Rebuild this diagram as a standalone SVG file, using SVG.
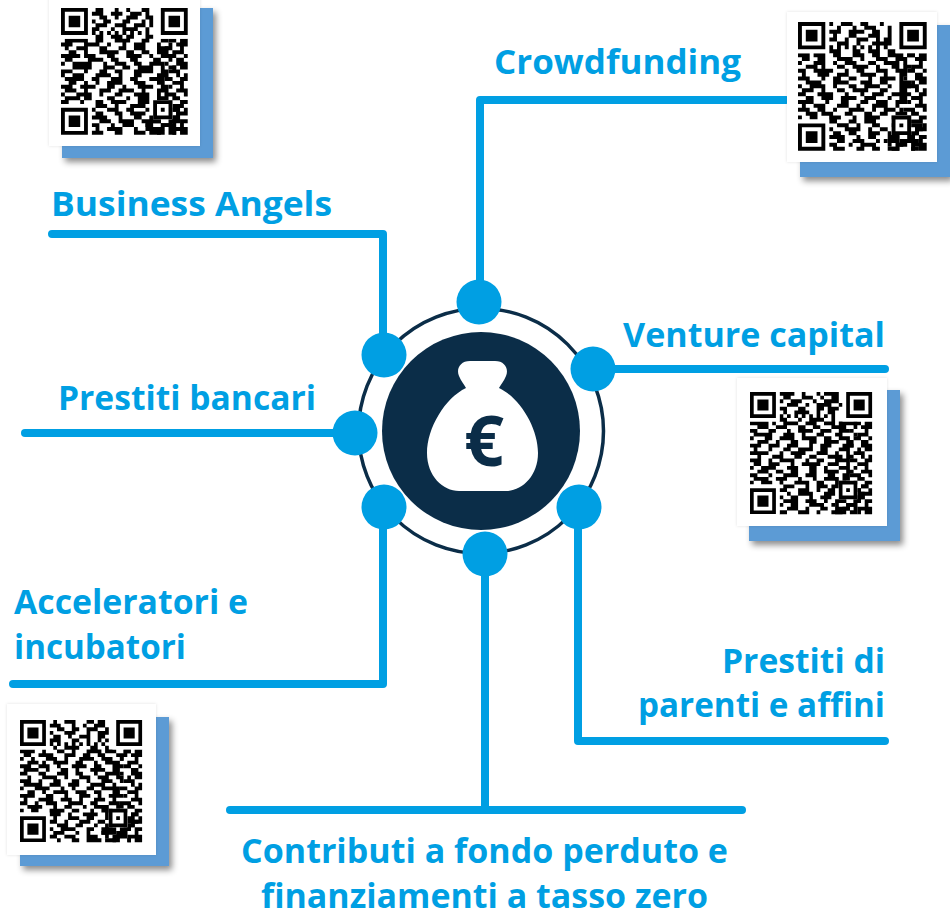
<svg xmlns="http://www.w3.org/2000/svg" width="950" height="913" viewBox="0 0 950 913">
<style>
.lbl{font-family:"Open Sans","Noto Sans","Liberation Sans",sans-serif;font-weight:700;font-size:34.5px;fill:#009fe3;font-variant-ligatures:none}
.wire{fill:none;stroke:#009fe3;stroke-width:8;stroke-linecap:round;stroke-linejoin:round}
.dot{fill:#009fe3}
.back{fill:#5b9bd5;filter:url(#sh)}
.card{fill:#fff;filter:url(#sh2)}
.qrd{fill:none;stroke:#000;stroke-width:1.03}
</style>
<defs>
<filter id="sh" x="-10%" y="-10%" width="125%" height="125%"><feDropShadow dx="3" dy="4" stdDeviation="3" flood-color="#000" flood-opacity=".45"/></filter>
<filter id="sh2" x="-5%" y="-5%" width="110%" height="110%"><feDropShadow dx="0" dy="0" stdDeviation="1.5" flood-color="#000" flood-opacity=".12"/></filter>
<g id="frame">
<path class="qrd" d="M28 8.5h2m1 0h2M30 9.5h3M27 10.5h1m3 0h1M29 11.5h3M28 12.5h2m2 0h1M30 13.5h2M27 14.5h1m2 0h3M29 15.5h1m1 0h2M28 16.5h3M30 17.5h1m1 0h1M27 18.5h2m2 0h2M29 19.5h3M28 20.5h1m2 0h1M30 21.5h3M27 22.5h3m2 0h1M29 23.5h2M28 24.5h1m2 0h2M30 25.5h2M29 26.5h1m2 0h1M30 27.5h3M29 28.5h2M24 29.5h2m2 0h2m1 0h2M22 30.5h1m3 0h3m2 0h1M25 31.5h2m2 0h4M23 32.5h3m3 0h1m1 0h2"/>
<path fill="#fff" d="M0 0h8v8h-8zM25 0h8v8h-8zM0 25h8v8h-8zM24 24h5v5h-5z"/>
<path d="M0 0h7v7h-7zM1 1v5h5v-5zM2 2h3v3h-3zM26 0h7v7h-7zM27 1v5h5v-5zM28 2h3v3h-3zM0 26h7v7h-7zM1 27v5h5v-5zM2 28h3v3h-3zM24 24h5v5h-5zM25 25v3h3v-3zM26 26h1v1h-1z"/>
</g>
</defs>

<g id="connectors">
<path class="wire" d="M52 234H383V345"/>
<path class="wire" d="M786 100H480V295"/>
<path class="wire" d="M600 369H885"/>
<path class="wire" d="M25 433H345"/>
<path class="wire" d="M13 684H383V515"/>
<path class="wire" d="M578 515V741H885"/>
<path class="wire" d="M485 560V806"/>
<path class="wire" d="M230 810H742"/>
</g>

<g id="hub">
<circle cx="481" cy="431" r="122.5" fill="none" stroke="#0b2d48" stroke-width="3.5"/>
<circle cx="481" cy="431" r="99" fill="#0b2d48"/>
<path fill="#fff" d="M470 361H495C505 361 509 369 506 376C504 381 501 384 499 388C520 398 538 428 538 453C538 476 522 491 506 491H459C443 491 427 476 427 453C427 428 445 398 466 388C464 384 461 381 459 376C456 369 460 361 470 361Z"/>
<text x="484" y="466" text-anchor="middle" font-family="'Open Sans','Noto Sans',sans-serif" font-weight="700" font-size="70" fill="#0b2d48">€</text>
</g>

<g id="dot-crowdfunding"><circle class="dot" cx="479" cy="302" r="22.5"/></g>
<g id="dot-business-angels"><circle class="dot" cx="384" cy="355" r="22.5"/></g>
<g id="dot-venture-capital"><circle class="dot" cx="593" cy="369" r="22.5"/></g>
<g id="dot-prestiti-bancari"><circle class="dot" cx="355" cy="433" r="22.5"/></g>
<g id="dot-acceleratori"><circle class="dot" cx="384" cy="507" r="22.5"/></g>
<g id="dot-prestiti-parenti"><circle class="dot" cx="579" cy="507" r="22.5"/></g>
<g id="dot-contributi"><circle class="dot" cx="485" cy="554" r="22.5"/></g>

<g id="label-crowdfunding"><text class="lbl" x="494" y="74" textLength="247" lengthAdjust="spacingAndGlyphs">Crowdfunding</text></g>
<g id="label-business-angels"><text class="lbl" x="51" y="216" textLength="281" lengthAdjust="spacingAndGlyphs">Business Angels</text></g>
<g id="label-venture-capital"><text class="lbl" x="623" y="347" textLength="262" lengthAdjust="spacingAndGlyphs">Venture capital</text></g>
<g id="label-prestiti-bancari"><text class="lbl" x="58" y="410" textLength="258" lengthAdjust="spacingAndGlyphs">Prestiti bancari</text></g>
<g id="label-acceleratori"><text class="lbl" x="14" y="614" textLength="234" lengthAdjust="spacingAndGlyphs">Acceleratori e</text><text class="lbl" x="14" y="659" textLength="172" lengthAdjust="spacingAndGlyphs">incubatori</text></g>
<g id="label-prestiti-parenti"><text class="lbl" x="722" y="673" textLength="163" lengthAdjust="spacingAndGlyphs">Prestiti di</text><text class="lbl" x="638" y="717" textLength="247" lengthAdjust="spacingAndGlyphs">parenti e affini</text></g>
<g id="label-contributi"><text class="lbl" x="241" y="863" textLength="487" lengthAdjust="spacingAndGlyphs">Contributi a fondo perduto e</text><text class="lbl" x="261" y="908" textLength="447" lengthAdjust="spacingAndGlyphs">finanziamenti a tasso zero</text></g>

<g id="qr-1">
<rect class="back" x="62" y="8" width="151" height="150"/>
<rect class="card" x="49" y="-4" width="151" height="150"/>
<g transform="translate(61 8) scale(3.84)">
<path class="qrd" d="M9 .5h2m3 0h1m2 0h1m3 0h2M8 1.5h3m2 0h3m2 0h3m1 0h1M10 2.5h2m2 0h1m2 0h3m2 0h2M8 3.5h1m2 0h2m3 0h2m3 0h1m1 0h1M9 4.5h3m2 0h3m2 0h3m1 0h1M8 5.5h2m3 0h1m2 0h4m2 0h1M8 6.5h1m1 0h1m1 0h1m1 0h1m1 0h1m1 0h1m1 0h1m1 0h1M9 7.5h2m2 0h3m1 0h2m3 0h2M1 8.5h6m2 0h2m3 0h4m3 0h2m3 0h2M0 9.5h3m3 0h4m2 0h1m3 0h1m2 0h3m3 0h1m2 0h1M1 10.5h1m2 0h3m3 0h2m3 0h2m2 0h3m3 0h4M2 11.5h2m2 0h1m3 0h5m2 0h2m2 0h2m2 0h3M0 12.5h5m1 0h3m3 0h2m3 0h4m2 0h1m2 0h3M1 13.5h2m4 0h4m2 0h2m3 0h2m4 0h2m2 0h1M0 14.5h1m2 0h5m3 0h1m2 0h3m2 0h2m2 0h4M3 15.5h5m3 0h3m2 0h2m2 0h4m2 0h1m1 0h2M0 16.5h3m3 0h1m3 0h2m2 0h2m3 0h5m2 0h2M0 17.5h1m2 0h3m3 0h4m2 0h1m3 0h2m4 0h3M1 18.5h5m2 0h2m3 0h3m2 0h2m3 0h4m1 0h1M2 19.5h2m2 0h1m2 0h1m2 0h4m3 0h3m3 0h2M0 20.5h3m2 0h4m3 0h2m2 0h1m3 0h4m2 0h2M1 21.5h3m2 0h1m3 0h3m2 0h4m2 0h1m3 0h3M0 22.5h1m3 0h4m2 0h1m3 0h2m3 0h4m2 0h1m1 0h1M1 23.5h4m1 0h2m4 0h2m3 0h1m2 0h3m2 0h3M0 24.5h2m3 0h1m3 0h2m2 0h4m3 0h3m2 0h1M9 25.5h3m2 0h1m3 0h4m7 0h2M8 26.5h1m3 0h3m2 0h2m3 0h1m6 0h2M9 27.5h2m3 0h2m2 0h4m6 0h1m1 0h1M8 28.5h4m3 0h1m3 0h2m2 0h1m5 0h2M10 29.5h3m2 0h4m2 0h5m3 0h2M8 30.5h2m3 0h1m2 0h3m3 0h2m2 0h4M9 31.5h1m2 0h4m3 0h1m2 0h4m2 0h2M8 32.5h3m3 0h2m3 0h3m3 0h2m1 0h2"/>
<use href="#frame"/>
</g>
</g>

<g id="qr-2">
<rect class="back" x="800" y="25" width="150" height="152"/>
<rect class="card" x="787" y="12" width="150" height="150"/>
<g transform="translate(798 22) scale(3.9)">
<path class="qrd" d="M8 .5h1m2 0h3m2 0h2m3 0h1M10 1.5h1m3 0h1m2 0h3m3 0h1M8 2.5h3m2 0h4m2 0h2m2 0h1M9 3.5h1m3 0h2m3 0h3m2 0h1M8 4.5h2m2 0h1m2 0h3m2 0h1m1 0h2M10 5.5h3m2 0h1m3 0h5M8 6.5h1m1 0h1m1 0h1m1 0h1m1 0h1m1 0h1m1 0h1m1 0h1M8 7.5h3m3 0h2m2 0h3m2 0h2M0 8.5h3m1 0h3m2 0h2m3 0h3m2 0h2m2 0h4m1 0h2M1 9.5h2m2 0h2m3 0h4m2 0h1m3 0h3m2 0h3M0 10.5h1m3 0h3m2 0h1m2 0h3m3 0h2m2 0h4M2 11.5h3m1 0h1m3 0h2m2 0h4m2 0h1m3 0h2m1 0h2M0 12.5h2m2 0h5m3 0h1m2 0h2m3 0h3m2 0h3M1 13.5h1m3 0h3m2 0h3m3 0h4m2 0h1m3 0h2M0 14.5h3m3 0h1m2 0h2m2 0h2m3 0h1m2 0h4m1 0h1M2 15.5h4m3 0h4m3 0h3m2 0h2m3 0h3M0 16.5h1m2 0h4m2 0h1m3 0h2m2 0h4m2 0h1m2 0h3M1 17.5h3m2 0h1m3 0h2m2 0h4m3 0h2m3 0h2M0 18.5h2m3 0h4m3 0h1m3 0h1m2 0h3m2 0h4M2 19.5h2m2 0h3m2 0h4m2 0h3m3 0h1m2 0h2M0 20.5h4m3 0h1m3 0h2m3 0h2m2 0h3m2 0h3M1 21.5h1m2 0h3m3 0h3m2 0h1m3 0h4m2 0h1M0 22.5h3m2 0h2m2 0h1m3 0h4m2 0h1m2 0h3m1 0h1M2 23.5h3m1 0h3m3 0h2m3 0h2m2 0h2m2 0h3M0 24.5h1m2 0h2m3 0h3m3 0h1m2 0h4m3 0h1m3 0h1M8 25.5h2m3 0h2m2 0h3m7 0h3M10 26.5h3m2 0h1m3 0h2m3 0h1m5 0h2M8 27.5h1m3 0h4m2 0h1m2 0h2m7 0h2M9 28.5h2m2 0h2m3 0h3m2 0h1m6 0h1M8 29.5h4m3 0h1m2 0h2m3 0h3m3 0h1M10 30.5h2m2 0h3m3 0h1m2 0h3m2 0h3M8 31.5h2m3 0h1m2 0h4m3 0h1m2 0h2M9 32.5h3m3 0h2m2 0h2m3 0h2m3 0h2"/>
<use href="#frame"/>
</g>
</g>

<g id="qr-3">
<rect class="back" x="749" y="390" width="151" height="151"/>
<rect class="card" x="737" y="378" width="150" height="148"/>
<g transform="translate(750 392) scale(3.7)">
<path class="qrd" d="M8 .5h4m2 0h1m3 0h1m1 0h4M9 1.5h2m3 0h3m2 0h1m2 0h2M8 2.5h1m2 0h3m3 0h1m2 0h4M10 3.5h3m2 0h1m2 0h4m2 0h1M8 4.5h2m3 0h2m3 0h2m1 0h3M9 5.5h1m2 0h4m2 0h1m2 0h2M8 6.5h1m1 0h1m1 0h1m1 0h1m1 0h1m1 0h1m1 0h1m1 0h1M8 7.5h2m3 0h1m2 0h4m2 0h1M0 8.5h5m1 0h1m2 0h4m2 0h3m2 0h3m1 0h5M2 9.5h3m2 0h3m3 0h2m2 0h2m3 0h4m2 0h1M0 10.5h2m3 0h2m3 0h1m2 0h4m2 0h3m2 0h3M1 11.5h5m3 0h3m2 0h1m3 0h2m3 0h2m3 0h1M0 12.5h1m3 0h2m2 0h4m2 0h4m2 0h2m2 0h3M2 13.5h3m2 0h1m3 0h2m3 0h2m2 0h4m2 0h2M0 14.5h3m2 0h3m2 0h3m3 0h1m2 0h3m3 0h3M1 15.5h1m3 0h1m3 0h2m2 0h4m2 0h2m3 0h3M0 16.5h5m3 0h1m2 0h4m3 0h3m2 0h1m2 0h1M2 17.5h1m3 0h3m3 0h2m2 0h2m3 0h4m1 0h2M0 18.5h3m2 0h1m2 0h4m3 0h1m2 0h2m3 0h4M1 19.5h2m2 0h3m3 0h1m2 0h5m2 0h3m2 0h1M0 20.5h1m2 0h4m3 0h3m3 0h2m2 0h1m3 0h3M2 21.5h3m2 0h2m2 0h2m3 0h2m2 0h4m2 0h2M0 22.5h2m3 0h1m3 0h4m2 0h3m3 0h2m2 0h2M1 23.5h4m2 0h3m3 0h1m3 0h1m2 0h4m1 0h2M0 24.5h1m2 0h3m2 0h1m3 0h4m2 0h2m3 0h3M9 25.5h3m3 0h1m2 0h3m1 0h2m6 0h2M8 26.5h2m3 0h3m2 0h1m2 0h2m6 0h1M10 27.5h1m2 0h4m3 0h3m6 0h2M8 28.5h1m2 0h2m3 0h1m2 0h3m6 0h3M9 29.5h4m2 0h3m2 0h1m2 0h3m2 0h2M8 30.5h1m2 0h2m3 0h4m3 0h1m2 0h3M10 31.5h3m2 0h1m3 0h2m2 0h4m1 0h1M8 32.5h2m3 0h3m2 0h1m3 0h3m2 0h2"/>
<use href="#frame"/>
</g>
</g>

<g id="qr-4">
<rect class="back" x="20" y="717" width="149" height="149"/>
<rect class="card" x="7" y="704" width="149" height="151"/>
<g transform="translate(20 720) scale(3.7)">
<path class="qrd" d="M9 .5h1m2 0h3m3 0h2m1 0h2M8 1.5h3m3 0h1m2 0h1m2 0h3M10 2.5h2m2 0h2m2 0h3m2 0h1M8 3.5h1m3 0h3m3 0h1m2 0h3M9 4.5h2m2 0h1m2 0h3m2 0h2M8 5.5h3m3 0h2m2 0h1m2 0h1m1 0h1M8 6.5h1m1 0h1m1 0h1m1 0h1m1 0h1m1 0h1m1 0h1m1 0h1M9 7.5h1m2 0h4m3 0h2m2 0h1M0 8.5h4m2 0h1m3 0h2m2 0h1m3 0h4m1 0h3m2 0h2M1 9.5h2m2 0h4m3 0h3m2 0h2m2 0h2m3 0h3M0 10.5h1m2 0h1m3 0h3m2 0h1m3 0h4m2 0h3m2 0h1M2 11.5h3m1 0h1m2 0h4m2 0h2m3 0h1m2 0h4M0 12.5h3m2 0h3m2 0h1m3 0h4m2 0h2m3 0h3M1 13.5h4m2 0h1m3 0h2m2 0h1m3 0h4m2 0h2M0 14.5h2m3 0h2m3 0h3m2 0h2m3 0h1m2 0h4M2 15.5h1m3 0h4m2 0h1m3 0h3m2 0h3m2 0h2M0 16.5h3m2 0h1m3 0h2m3 0h2m2 0h1m3 0h3m2 0h1M1 17.5h5m2 0h3m2 0h3m3 0h4m2 0h1M0 18.5h1m3 0h4m3 0h1m2 0h1m3 0h2m2 0h5M2 19.5h2m2 0h1m2 0h4m2 0h3m2 0h2m3 0h2M0 20.5h4m3 0h2m3 0h1m3 0h3m2 0h1m2 0h4M1 21.5h1m3 0h4m2 0h3m2 0h1m3 0h3m2 0h1M0 22.5h2m2 0h1m2 0h3m3 0h4m2 0h2m3 0h3M2 23.5h4m3 0h1m2 0h2m3 0h1m2 0h4m2 0h2M0 24.5h1m2 0h2m3 0h4m2 0h2m3 0h1m2 0h3m1 0h1M8 25.5h3m2 0h1m3 0h4m2 0h1m6 0h2M9 26.5h1m3 0h3m2 0h2m3 0h1m6 0h1M8 27.5h2m2 0h1m3 0h3m2 0h2m6 0h3M10 28.5h3m2 0h2m3 0h1m2 0h2m5 0h1M8 29.5h1m2 0h4m3 0h2m2 0h3m2 0h2M9 30.5h3m3 0h1m2 0h1m3 0h4m1 0h2M8 31.5h2m2 0h3m3 0h3m2 0h1m2 0h3M10 32.5h1m3 0h2m2 0h4m3 0h2m2 0h1"/>
<use href="#frame"/>
</g>
</g>
</svg>
